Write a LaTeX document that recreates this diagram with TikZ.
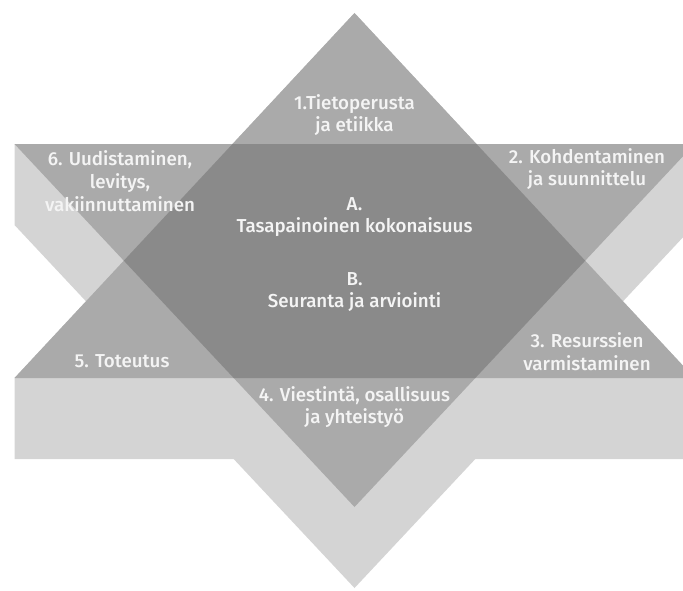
\documentclass[tikz,border=0pt]{standalone}
\usepackage{fontspec}
\setmainfont{Fira Sans}
\newfontfamily\starfont{Fira Sans Medium}
\usetikzlibrary{positioning}

\definecolor{starlight}{RGB}{212,212,212}
\definecolor{starmid}{RGB}{170,170,170}
\definecolor{stardark}{RGB}{138,138,138}
\definecolor{startext}{RGB}{244,244,244}

\begin{document}
\begin{tikzpicture}[x=0.03cm, y=-0.03cm,
    starlabel/.style={text=startext, font=\starfont\fontsize{16}{19.5}\selectfont, align=center}]
        % Define dimensions
        \def\cx{354.5}
        \def\hw{340}
        \def\drop{81}

        % Fix the frame
        \useasboundingbox (0,0) rectangle (683,590);
        \clip (0,0) rectangle (683,590);

        % Define points
        \coordinate (T) at (\cx,13);          % apex of upward triangle
        \coordinate (UL) at (\cx-\hw,378);
        \coordinate (UR) at (\cx+\hw,378);
        \coordinate (SUL) at (\cx-\hw,378+\drop); % base pushed down
        \coordinate (SUR) at (\cx+\hw,378+\drop);
        \coordinate (DL) at (\cx-\hw,144);
        \coordinate (DR) at (\cx+\hw,144);
        \coordinate (D) at (\cx,507);          % apex of downward triangle
        \coordinate (SDL) at (\cx-\hw,144+\drop);
        \coordinate (SDR) at (\cx+\hw,144+\drop);
        \coordinate (SD) at (\cx,507+\drop);

        % Draw shadows
        \fill[starlight] (T) -- (UR) -- (SUR) -- (SUL) -- (UL) -- cycle;
        \fill[starlight] (DL) -- (DR) -- (SDR) -- (SD) -- (SDL) -- cycle;

        % Draw triangles
        \fill[starmid] (T) -- (UR) -- (UL) -- cycle;
        \fill[starmid] (DL) -- (DR) -- (D) -- cycle;

        % Draw overlap
        \begin{scope}
            \clip (T) -- (UR) -- (UL) -- cycle;
            \fill[stardark] (DL) -- (DR) -- (D) -- cycle;
        \end{scope}

        % Label points
        \node[starlabel] (tieto) at (\cx,115) {1.Tietoperusta\\ja etiikka};
        \node[starlabel] (kohde) at (587,169) {2. Kohdentaminen\\ja suunnittelu};
        \node[starlabel] (resurssi) at (587,352) {3. Resurssien\\varmistaminen};
        \node[starlabel] (viesti) at (\cx,407) {4. Viestintä, osallisuus\\ja yhteistyö};
        \node[starlabel] (toteutus) at (122,361) {5. Toteutus};
        \node[starlabel] (uudistus) at (120,181) {6. Uudistaminen,\\levitys,\\vakiinnuttaminen};

        % Label centre
        \node[starlabel] (A) at (\cx,217) {A.\\Tasapainoinen kokonaisuus};
        \node[starlabel] (B) at (\cx,292) {B.\\Seuranta ja arviointi};
      \end{tikzpicture}
\end{document}
